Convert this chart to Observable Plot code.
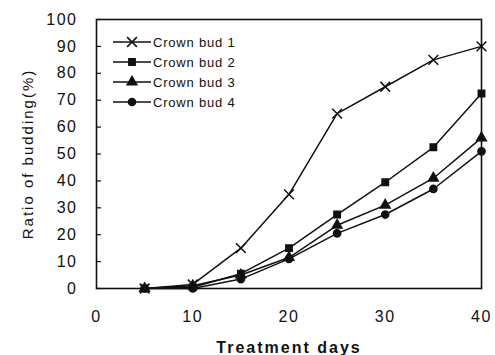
<!DOCTYPE html>
<html><head><meta charset="utf-8">
<script src="https://cdn.jsdelivr.net/npm/d3@7"></script>
<script src="https://cdn.jsdelivr.net/npm/@observablehq/plot@0.6"></script>
<style>
body{margin:0;background:#fff}
#wrap{position:relative;width:495px;height:355px;font-family:"Liberation Sans",Arial,sans-serif}
#legend{position:absolute;left:113px;top:32px}
</style>
</head><body><div id="wrap"></div>
<script>
const days = [5, 10, 15, 20, 25, 30, 35, 40];
const seriesNames = ["Crown bud 1", "Crown bud 2", "Crown bud 3", "Crown bud 4"];
const bud1 = [0, 1.5, 15, 35, 65, 75, 85, 90];
const bud2 = [0, 0.5, 5.5, 15, 27.5, 39.5, 52.5, 72.5];
const bud3 = [0, 1, 5, 11.5, 23.5, 31, 41, 56];
const bud4 = [0, 0, 3.5, 11, 20.5, 27.5, 37, 51];
const xTicks = [0, 10, 20, 30, 40];
const yTicks = [0, 10, 20, 30, 40, 50, 60, 70, 80, 90, 100];
const symbolNames = ["times", "square", "triangle", "circle"];

const seriesValues = [bud1, bud2, bud3, bud4];
const data = [];
seriesNames.forEach((s, i) => days.forEach((d, j) => data.push({series: s, day: d, value: seriesValues[i][j]})));

const ink = "#111";
const plot = Plot.plot({
  width: 495, height: 355,
  marginLeft: 96, marginRight: 14, marginTop: 19, marginBottom: 67,
  style: {fontFamily: "'Liberation Sans', Arial, sans-serif", background: "white", color: ink},
  x: {domain: [0, 40]},
  y: {domain: [0, 100]},
  symbol: {domain: seriesNames, range: symbolNames},
  marks: [
    Plot.frame({stroke: ink, strokeWidth: 1.6}),
    Plot.axisY(yTicks, {tickSize: 0, tickPadding: 19, fontSize: 16, label: "Ratio of budding(%)", labelAnchor: "center", labelOffset: 74, labelArrow: "none"}),
    Plot.axisY(yTicks, {tickSize: 5, dx: 5, tickFormat: () => "", label: null, strokeWidth: 1.2}),
    Plot.axisX(xTicks, {tickSize: 0, tickPadding: 22, fontSize: 16, label: "Treatment days", labelAnchor: "center", labelOffset: 64, labelArrow: "none"}),
    Plot.line(data, {x: "day", y: "value", z: "series", stroke: ink, strokeWidth: 1.5}),
    Plot.dot(data, {filter: d => d.series === seriesNames[0], x: "day", y: "value", symbol: "series", stroke: ink, strokeWidth: 1.5, r: 4.5}),
    Plot.dot(data, {filter: d => d.series !== seriesNames[0], x: "day", y: "value", symbol: "series", fill: ink, stroke: ink, r: 3.6})
  ]
});
const svg = d3.select(plot);
svg.selectAll('g[aria-label="y-axis tick label"], g[aria-label="x-axis tick label"]').attr("letter-spacing", "1.5");
svg.selectAll('g[aria-label="x-axis label"]').attr("letter-spacing", "2").attr("font-weight", "bold").attr("font-size", "16");
svg.selectAll('g[aria-label="y-axis label"]').attr("letter-spacing", "2").attr("font-size", "15");
document.getElementById("wrap").appendChild(plot);

// legend
const leg = d3.select("#wrap").append("svg").attr("id", "legend").attr("width", 140).attr("height", 80);
seriesNames.forEach((s, i) => {
  const g = leg.append("g").attr("transform", `translate(0,${10 + i * 20})`);
  g.append("line").attr("x1", 0).attr("x2", 38).attr("y1", 0).attr("y2", 0).attr("stroke", ink).attr("stroke-width", 1.5);
  const sym = d3.symbol(Plot.scale ? [d3.symbolTimes, d3.symbolSquare, d3.symbolTriangle, d3.symbolCircle][i] : d3.symbolCircle, i === 0 ? 64 : 40)();
  g.append("path").attr("d", sym).attr("transform", "translate(19,0)")
    .attr("fill", i === 0 ? "none" : ink).attr("stroke", ink).attr("stroke-width", 1.5);
  g.append("text").attr("x", 40).attr("y", 0).attr("dy", "0.35em").attr("font-size", 13).attr("letter-spacing", "0.8").attr("fill", ink).text(s);
});
</script>
</body></html>
